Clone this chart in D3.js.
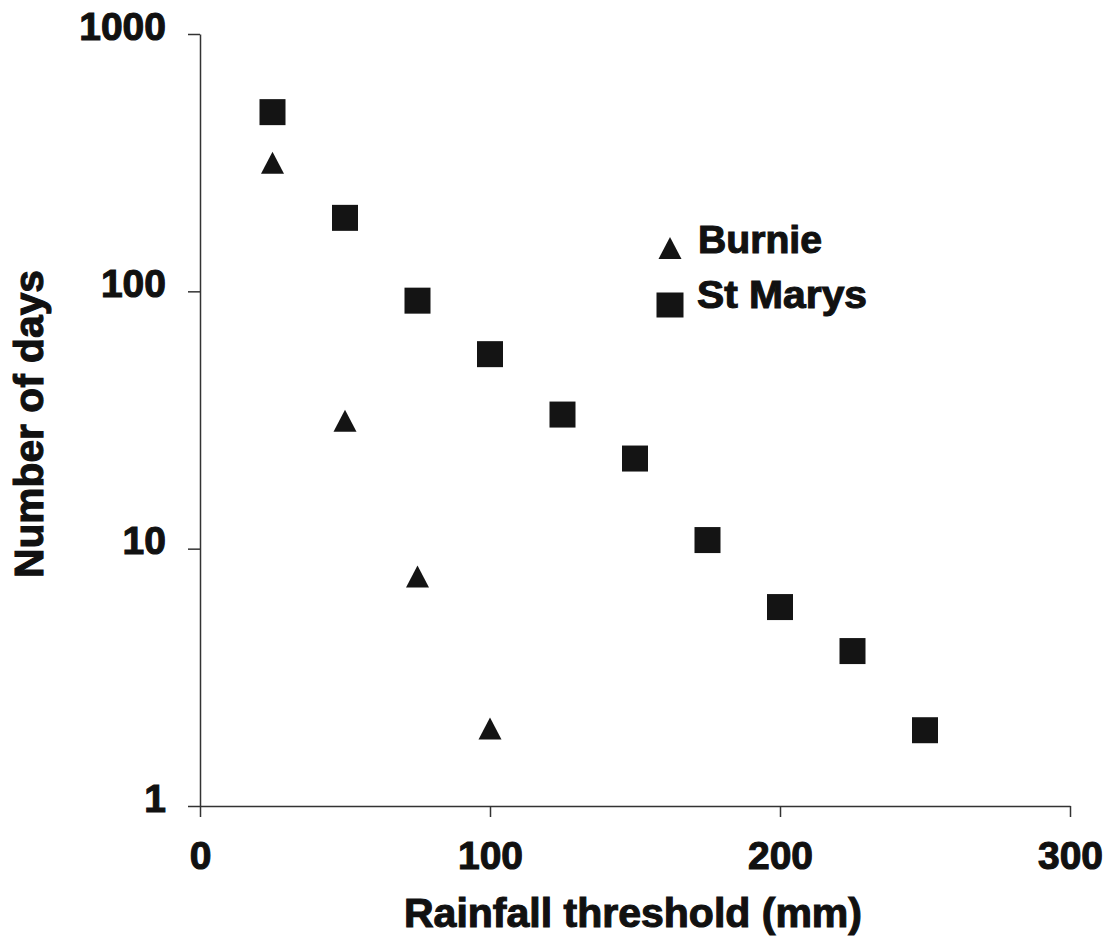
<!DOCTYPE html>
<html>
<head>
<meta charset="utf-8">
<script src="https://cdn.jsdelivr.net/npm/d3@7"></script>
<style>
  html, body { margin: 0; padding: 0; background: #fff; }
  svg { display: block; }
  text { font-family: "Liberation Sans", Arial, sans-serif; font-weight: bold; fill: #111; stroke: #111; stroke-width: 1.1px; }
</style>
</head>
<body>
<svg id="chart" width="1107" height="949"></svg>
<script>
// ---- data ----
const burnieX = [25, 50, 75, 100];
const burnieY = [316, 31.4, 7.8, 2];
const stMarysX = [25, 50, 75, 100, 125, 150, 175, 200, 225, 250];
const stMarysY = [497, 193, 92, 57, 33.2, 22.4, 10.8, 5.93, 4, 1.97];
const xTicks = [0, 100, 200, 300];
const yTicks = [1, 10, 100, 1000];
const seriesNames = ["Burnie", "St Marys"];
const xTitle = "Rainfall threshold (mm)";
const yTitle = "Number of days";

// ---- layout ----
const svg = d3.select("#chart");
const x = d3.scaleLinear().domain([0, 300]).range([200, 1070]);
const y = d3.scaleLog().domain([1, 1000]).range([806, 34]);
const ink = "#141414";
const axisColor = "#333";
const textStyle = sel => sel
  .attr("font-family", '"Liberation Sans", Arial, sans-serif')
  .attr("font-weight", "bold")
  .style("fill", "#111").style("stroke", "#111").style("stroke-width", "1.1px");

// y axis
const gy = svg.append("g")
  .attr("transform", `translate(${x(0)},0)`)
  .call(d3.axisLeft(y).tickValues(yTicks).tickFormat(d3.format("d"))
    .tickSize(12).tickSizeOuter(0).tickPadding(22));
gy.selectAll("path.domain, line").attr("stroke", axisColor).attr("stroke-width", 1.5);
gy.selectAll("text").attr("font-size", 39).attr("dy", 5).call(textStyle);

// x axis
const gx = svg.append("g")
  .attr("transform", `translate(0,${y(1)})`)
  .call(d3.axisBottom(x).tickValues(xTicks).tickFormat(d3.format("d"))
    .tickSize(11).tickSizeOuter(0).tickPadding(24));
gx.selectAll("path.domain, line").attr("stroke", axisColor).attr("stroke-width", 1.5);
gx.selectAll("text").attr("font-size", 39).call(textStyle);

// titles
svg.append("text")
  .attr("x", 633).attr("y", 927)
  .attr("text-anchor", "middle")
  .attr("font-size", 40)
  .attr("textLength", 458).attr("lengthAdjust", "spacingAndGlyphs")
  .text(xTitle);

svg.append("text")
  .attr("transform", "translate(43,424) rotate(-90)")
  .attr("text-anchor", "middle")
  .attr("font-size", 40)
  .attr("textLength", 308).attr("lengthAdjust", "spacingAndGlyphs")
  .text(yTitle);

// markers
const triW = 23, triH = 22, sq = 26;
function triPath(cx, cy) {
  return `M${cx},${cy - triH / 2}L${cx + triW / 2},${cy + triH / 2}L${cx - triW / 2},${cy + triH / 2}Z`;
}

const burnie = burnieX.map((d, i) => ({ x: d, y: burnieY[i] }));
const stMarys = stMarysX.map((d, i) => ({ x: d, y: stMarysY[i] }));

svg.append("g").selectAll("rect")
  .data(stMarys).join("rect")
  .attr("x", d => x(d.x) - sq / 2)
  .attr("y", d => y(d.y) - sq / 2)
  .attr("width", sq).attr("height", sq)
  .attr("fill", ink);

svg.append("g").selectAll("path")
  .data(burnie).join("path")
  .attr("d", d => triPath(x(d.x), y(d.y)))
  .attr("fill", ink);

// legend
const leg = svg.append("g");
leg.append("path").attr("d", triPath(670, 248)).attr("fill", ink);
leg.append("text").attr("x", 698).attr("y", 253).attr("font-size", 39)
  .attr("textLength", 124).attr("lengthAdjust", "spacingAndGlyphs").text(seriesNames[0]);
leg.append("rect").attr("x", 670 - 13.5).attr("y", 305 - 12.5).attr("width", 27).attr("height", 25).attr("fill", ink);
leg.append("text").attr("x", 697).attr("y", 308).attr("font-size", 39)
  .attr("textLength", 170).attr("lengthAdjust", "spacingAndGlyphs").text(seriesNames[1]);
</script>
</body>
</html>
